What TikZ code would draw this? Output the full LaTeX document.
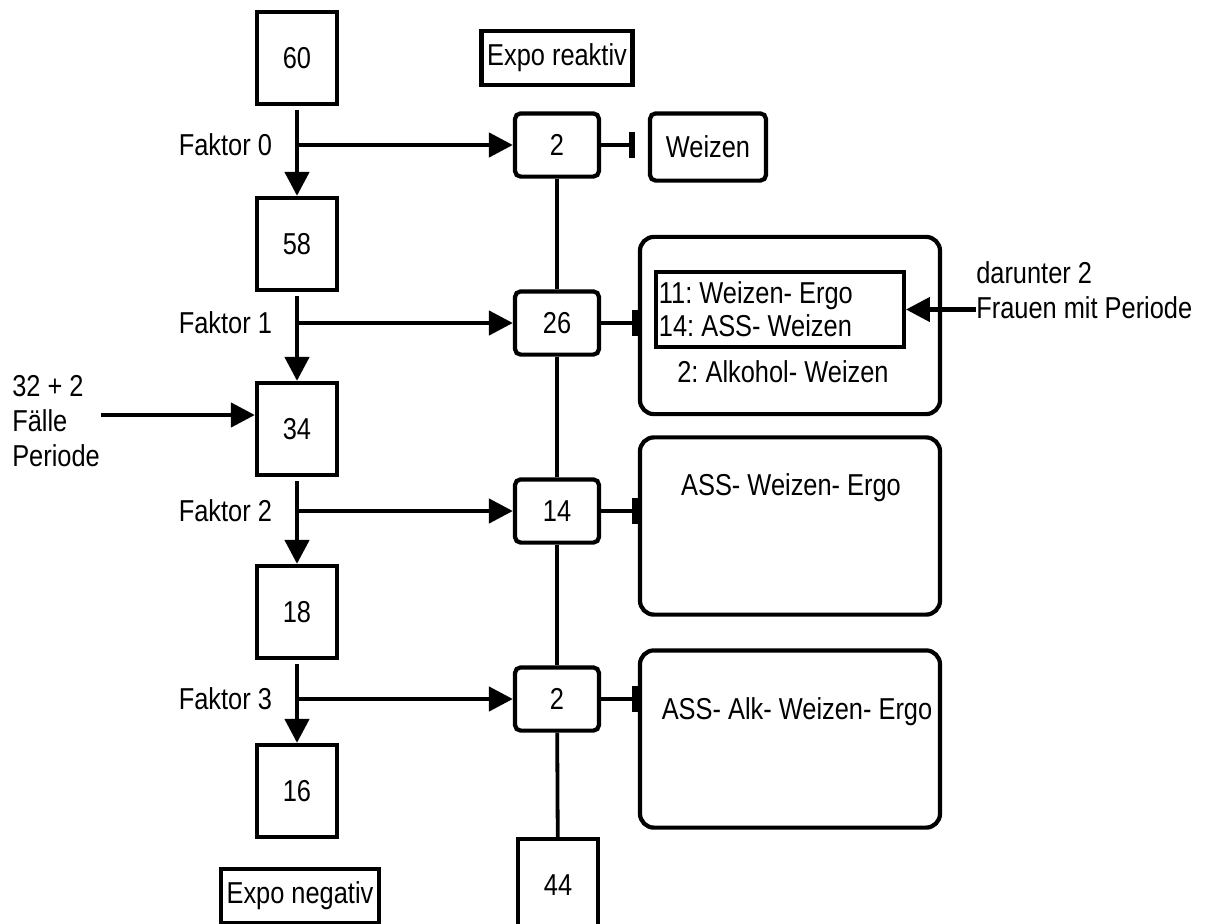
\documentclass[tikz,border=0pt]{standalone}
\usepackage{fontspec}
\setmainfont{Liberation Sans}[FakeStretch=0.84]
\usepackage{tikz}
\usetikzlibrary{arrows.meta,positioning}
\frenchspacing
\tikzset{
  countbox/.style={
    draw,
    line width=3pt,
    minimum width=2cm,
    minimum height=2.3cm,
    inner sep=0pt
  },
  stagebox/.style={
    draw,
    line width=3pt,
    rounded corners=4pt,
    minimum width=2.1cm,
    minimum height=1.58cm,
    inner sep=0pt
  },
  expobox/.style={
    draw,
    line width=3.2pt,
    inner xsep=4pt,
    minimum height=1.35cm
  },
  groupbox/.style={
    draw,
    line width=3pt,
    rounded corners=10pt,
    minimum width=7.5cm,
    minimum height=4.43cm
  },
  pairbox/.style={
    draw,
    line width=3pt,
    align=flush left,
    text width=6.05cm,
    inner xsep=2pt,
    minimum height=1.88cm,
    font=\fontsize{21.5}{23.5}\selectfont
  },
  plaintext/.style={
    align=left,
    inner sep=0pt
  },
  factorlabel/.style={
    inner sep=0pt
  },
  flowarrow/.style={
    -{Triangle[length=17pt,width=17pt]},
    line width=3.2pt
  },
  linkline/.style={
    line width=2.7pt
  },
  blockline/.style={
    -{Bar[width=18pt,line width=4.2pt]},
    line width=3.2pt
  }
}

\begin{document}
\begin{tikzpicture}[x=0.025cm, y=-0.025cm, font=\fontsize{21.5}{25}\selectfont]
    \useasboundingbox (0,0) rectangle (1210,923);

    \node[countbox] (n60) at (297,58) {60};
    \node[countbox] (n58) at (297,244) {58};
    \node[countbox] (n34) at (297,429) {34};
    \node[countbox] (n18) at (297,612) {18};
    \node[countbox] (n16) at (297,791) {16};

    \node[expobox] (reaktiv) at (557,58) {Expo reaktiv};
    \node[expobox] (negativ) at (300,896) {Expo negativ};

    \node[stagebox] (r0) at (557,145) {2};
    \node[stagebox] (r1) at (557,323) {26};
    \node[stagebox] (r2) at (557,511) {14};
    \node[stagebox] (r3) at (557,699) {2};
    \node[countbox] (n44) at (558,885) {44};

    \node[stagebox, minimum width=2.9cm, minimum height=1.68cm] (weizen) at (708,147) {Weizen};

    \node[groupbox] (grp1) at (790,325.5) {};
    \node[pairbox] (pair) at (780,309.5) {11: Weizen- Ergo\\14: ASS- Weizen};
    \node[plaintext] (alk) at (783,372) {2: Alkohol- Weizen};

    \node[groupbox] (grp2) at (790,526) {};
    \node[plaintext] (grp2txt) at (791,488) {ASS- Weizen- Ergo};

    \node[groupbox] (grp3) at (790,739) {};
    \node[plaintext] (grp3txt) at (797,712) {ASS- Alk- Weizen- Ergo};

    \node[plaintext, anchor=west] (note) at (976,290) {darunter 2\\Frauen mit Periode};
    \node[plaintext, anchor=west] (extra) at (12,421) {32 + 2\\Fälle\\Periode};

    \foreach \a/\b in {n60/n58, n58/n34, n34/n18, n18/n16}
        \draw[flowarrow, shorten <=3pt] (\a) -- (\b);

    \foreach \r/\f in {r0/0, r1/1, r2/2, r3/3} {
        \coordinate (br\f) at (n60 |- \r);
        \draw[flowarrow] (br\f) -- (\r);
        \node[factorlabel, left=0.62cm of br\f] (fak\f) {Faktor \f};
    }

    \foreach \a/\b in {r0/r1, r1/r2, r2/r3, r3/n44}
        \draw[linkline] (\a) -- (\b);

    \draw[blockline, shorten >=0.32cm] (r0) -- (r0 -| weizen.west);
    \foreach \r/\g in {r1/grp1, r2/grp2, r3/grp3}
        \draw[blockline] (\r) -- (\r -| \g.west);

    \draw[flowarrow] (note.west |- pair.east) -- (pair.east);

    \coordinate (extin) at (101,415);
    \draw[flowarrow] (extin) -- (extin -| n34.west);
\end{tikzpicture}
\end{document}
